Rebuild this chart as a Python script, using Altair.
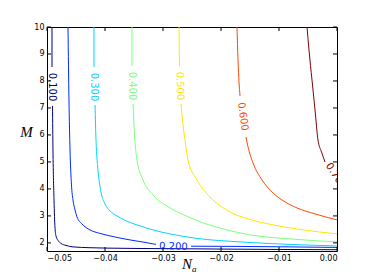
import altair as alt
import pandas as pd

# ---- contour levels and colours (jet) ----
levels = ["0.100", "0.200", "0.300", "0.400", "0.500", "0.600", "0.700"]
colors = ["#000080", "#002bff", "#00d4ff", "#7bff7b", "#ffe600", "#ff4800", "#800000"]

# ---- contour paths (x = N_a, y = M); split where labels sit ----
c100_a_x = [-0.04914, -0.04914]
c100_a_y = [10.0, 8.519]
c100_b_x = [-0.04905, -0.04897, -0.04879, -0.04862, -0.04845, -0.04810, -0.04759, -0.04672,
            -0.04552, -0.04259, -0.03966, -0.03397, -0.02362, -0.01155, 0.0]
c100_b_y = [7.074, 5.444, 3.593, 2.556, 2.259, 2.093, 1.981, 1.907,
            1.852, 1.822, 1.807, 1.793, 1.778, 1.759, 1.748]

c200_a_x = [-0.04638, -0.04621, -0.04603, -0.04578, -0.04552, -0.04517, -0.04483, -0.04397,
            -0.04259, -0.04086, -0.03914, -0.03569, -0.03310, -0.03121]
c200_a_y = [10.0, 7.296, 5.444, 4.148, 3.593, 3.222, 2.963, 2.704,
            2.481, 2.352, 2.259, 2.111, 2.019, 1.944]
c200_b_x = [-0.02517, -0.01672, -0.00810, 0.0]
c200_b_y = [1.878, 1.870, 1.852, 1.833]

c300_a_x = [-0.04190, -0.04190]
c300_a_y = [10.0, 8.519]
c300_b_x = [-0.04172, -0.04155, -0.04121, -0.04069, -0.04000, -0.03914, -0.03793, -0.03569,
            -0.03397, -0.03172, -0.02879, -0.02414, -0.01672, -0.00810, 0.0]
c300_b_y = [7.111, 5.815, 4.704, 3.889, 3.444, 3.185, 3.000, 2.759,
            2.630, 2.481, 2.333, 2.167, 2.037, 1.944, 1.889]

c400_a_x = [-0.03534, -0.03534]
c400_a_y = [10.0, 8.556]
c400_b_x = [-0.03517, -0.03491, -0.03448, -0.03345, -0.03172, -0.02879, -0.02621, -0.02310,
            -0.01931, -0.01500, -0.00810, 0.0]
c400_b_y = [7.148, 6.000, 5.074, 4.333, 3.778, 3.296, 3.019, 2.741,
            2.500, 2.296, 2.148, 2.037]

c500_a_x = [-0.02724, -0.02716]
c500_a_y = [10.0, 8.556]
c500_b_x = [-0.02690, -0.02655, -0.02621, -0.02569, -0.02414, -0.02190, -0.01845, -0.01500,
            -0.01103, -0.00638, 0.0]
c500_b_y = [7.148, 6.370, 5.815, 5.074, 4.333, 3.704, 3.148, 2.870,
            2.667, 2.500, 2.333]

c600_a_x = [-0.01724, -0.01707, -0.01672]
c600_a_y = [10.0, 8.778, 7.444]
c600_b_x = [-0.01569, -0.01534, -0.01448, -0.01293, -0.01103, -0.00897, -0.00690, -0.00379, 0.0]
c600_b_y = [5.926, 5.556, 4.963, 4.333, 3.852, 3.519, 3.296, 3.074, 2.852]

c700_a_x = [-0.00517, -0.00483, -0.00431, -0.00379, -0.00328, -0.00267, -0.00207]
c700_a_y = [10.0, 9.148, 8.037, 6.926, 5.815, 5.370, 5.000]

segments = [
    ("0.100", "a", c100_a_x, c100_a_y), ("0.100", "b", c100_b_x, c100_b_y),
    ("0.200", "a", c200_a_x, c200_a_y), ("0.200", "b", c200_b_x, c200_b_y),
    ("0.300", "a", c300_a_x, c300_a_y), ("0.300", "b", c300_b_x, c300_b_y),
    ("0.400", "a", c400_a_x, c400_a_y), ("0.400", "b", c400_b_x, c400_b_y),
    ("0.500", "a", c500_a_x, c500_a_y), ("0.500", "b", c500_b_x, c500_b_y),
    ("0.600", "a", c600_a_x, c600_a_y), ("0.600", "b", c600_b_x, c600_b_y),
    ("0.700", "a", c700_a_x, c700_a_y),
]

# ---- contour labels ----
label_text = ["0.100", "0.200", "0.300", "0.400", "0.500", "0.600"]
label_x = [-0.04914, -0.02819, -0.04190, -0.03534, -0.02707, -0.01621]
label_y = [7.778, 1.870, 7.778, 7.815, 7.815, 6.685]
label_angle = [90, 2, 90, 90, 89, 82]

edge_label_text = ["0.700"]
edge_label_x = [-0.00155]
edge_label_y = [4.926]
edge_label_angle = [57]

# ---- ticks ----
x_ticks = [-0.05, -0.04, -0.03, -0.02, -0.01, 0.0]
y_ticks = [2, 3, 4, 5, 6, 7, 8, 9, 10]

rows = []
for lev, seg, xs, ys in segments:
    for i, (xv, yv) in enumerate(zip(xs, ys)):
        rows.append({"level": lev, "seg": lev + seg, "i": i, "x": xv, "y": yv})
lines_df = pd.DataFrame(rows)

labels_df = pd.DataFrame({"level": label_text, "x": label_x, "y": label_y, "angle": label_angle})
edge_df = pd.DataFrame({"level": edge_label_text, "x": edge_label_x, "y": edge_label_y,
                        "angle": edge_label_angle})

W, H = 290, 224

xscale = alt.Scale(domain=[-0.05, 0.0], nice=False, zero=False)
yscale = alt.Scale(domain=[1.7, 10.0], nice=False, zero=False)
xenc = alt.X("x:Q", scale=xscale, title=None,
             axis=alt.Axis(values=x_ticks, format=".2f", title=None, labelPadding=3))
yenc = alt.Y("y:Q", scale=yscale, title=None,
             axis=alt.Axis(values=y_ticks, format="d", title=None, labelPadding=3))
cenc = alt.Color("level:N", scale=alt.Scale(domain=levels, range=colors), legend=None)

lines = alt.Chart(lines_df).mark_line(strokeWidth=1, clip=True, interpolate="monotone").encode(
    x=xenc, y=yenc, color=cenc, detail="seg:N", order="i:Q")

labels = alt.Chart(labels_df).mark_text(
    font="DejaVu Sans", fontSize=10, align="center", baseline="middle").encode(
    x=xenc, y=yenc, color=cenc, text="level:N", angle=alt.Angle("angle:Q", scale=None))

edge_labels = alt.Chart(edge_df).mark_text(
    font="DejaVu Sans", fontSize=10, align="left", baseline="middle", clip=True).encode(
    x=xenc, y=yenc, color=cenc, text="level:N", angle=alt.Angle("angle:Q", scale=None))

xt_df = pd.DataFrame({"x": x_ticks})
yt_df = pd.DataFrame({"y": y_ticks})
tick_col = "black"
xt_bottom = alt.Chart(xt_df).mark_rule(color=tick_col, strokeWidth=1).encode(
    x=xenc, y=alt.value(H), y2=alt.value(H - 4))
xt_top = alt.Chart(xt_df).mark_rule(color=tick_col, strokeWidth=1).encode(
    x=xenc, y=alt.value(0), y2=alt.value(4))
yt_left = alt.Chart(yt_df).mark_rule(color=tick_col, strokeWidth=1).encode(
    y=yenc, x=alt.value(0), x2=alt.value(4))
yt_right = alt.Chart(yt_df).mark_rule(color=tick_col, strokeWidth=1).encode(
    y=yenc, x=alt.value(W), x2=alt.value(W - 4))

m_title = alt.Chart(pd.DataFrame({"t": ["M"]})).mark_text(
    font="Liberation Serif", fontStyle="italic", fontSize=15, align="center",
    baseline="alphabetic", color="black").encode(
    text="t:N", x=alt.value(-20.5), y=alt.value(110))
n_title = alt.Chart(pd.DataFrame({"t": ["N"]})).mark_text(
    font="Liberation Serif", fontStyle="italic", fontSize=15, align="left",
    baseline="alphabetic", color="black").encode(
    text="t:N", x=alt.value(135), y=alt.value(242))
a_sub = alt.Chart(pd.DataFrame({"t": ["a"]})).mark_text(
    font="Liberation Serif", fontStyle="italic", fontSize=9, align="left",
    baseline="alphabetic", color="black").encode(
    text="t:N", x=alt.value(145), y=alt.value(244.5))

chart = alt.layer(
    lines, labels, edge_labels, xt_bottom, xt_top, yt_left, yt_right, m_title, n_title, a_sub
).properties(
    width=W, height=H,
    autosize=alt.AutoSizeParams(type="none"),
    padding={"left": 39, "top": 19, "right": 29, "bottom": 21},
).configure_view(
    stroke="black", strokeWidth=1
).configure_axis(
    grid=False, domain=False, ticks=False,
    labelFont="DejaVu Sans", labelFontSize=8, labelColor="black"
)

chart.save("out.html", embed_options={"renderer": "svg", "actions": False})
